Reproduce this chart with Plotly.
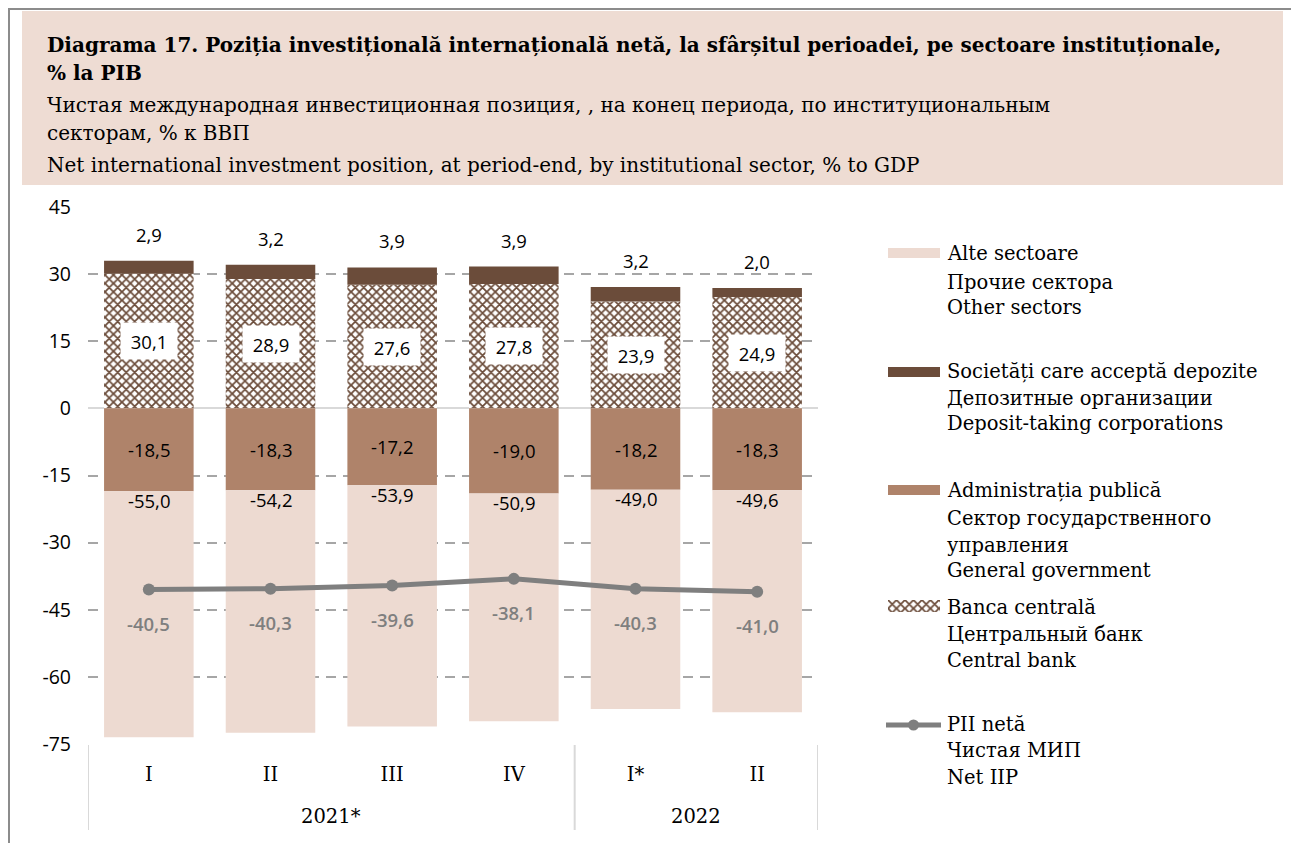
import plotly.graph_objects as go

# ---------------- data ----------------
years = ["2021*", "2021*", "2021*", "2021*", "2022", "2022"]
quarters = ["I", "II", "III", "IV", "I*", "II"]
central_bank = [30.1, 28.9, 27.6, 27.8, 23.9, 24.9]
deposit_taking = [2.9, 3.2, 3.9, 3.9, 3.2, 2.0]
general_gov = [-18.5, -18.3, -17.2, -19.0, -18.2, -18.3]
other_sectors = [-55.0, -54.2, -53.9, -50.9, -49.0, -49.6]
net_iip = [-40.5, -40.3, -39.6, -38.1, -40.3, -41.0]
y_ticks = [45, 30, 15, 0, -15, -30, -45, -60, -75]

title_lines = [
    ("<b>Diagrama 17. Poziția investițională internațională netă, la sfârșitul perioadei, pe sectoare instituționale,</b>", 45),
    ("<b>% la PIB</b>", 73),
    ("Чистая международная инвестиционная позиция, , на конец периода, по институциональным", 105),
    ("секторам, % к ВВП", 133),
    ("Net international investment position, at period-end, by institutional sector, % to GDP", 165),
]
legend_groups = [
    (["Alte sectoare", "Прочие сектора", "Other sectors"], [253, 282, 308]),
    (["Societăți care acceptă depozite", "Депозитные организации", "Deposit-taking corporations"], [372, 398, 424]),
    (["Administrația publică", "Сектор государственного", "управления", "General government"], [490, 518, 545, 570]),
    (["Banca centrală", "Центральный банк", "Central bank"], [607, 634, 660]),
    (["PII netă", "Чистая МИП", "Net IIP"], [724, 750, 777]),
]

# ---------------- styles ----------------
W, H = 1299, 843
OFF = 8  # page offset of the figure inside the browser window
C_OTHER = "#EDDAD1"
C_DEP = "#6B4C3A"
C_GOV = "#AF836A"
C_LINE = "#7F7F7F"
SERIF = "DejaVu Serif"
SANS = "Open Sans"
FS_TITLE = 20
FS_LEG = 19.5
FS_NUM = 18.5
BAR_W = 0.736
PATTERN = dict(shape="x", fgcolor=C_DEP, bgcolor="white", size=6, solidity=0.5, fillmode="replace")


def fx(p):
    return (p - OFF) / W


def fy(p):
    return 1 - (p - OFF) / H


def fmt(v):
    return f"{v:.1f}".replace(".", ",")


idx = list(range(len(quarters)))

fig = go.Figure()
fig.add_trace(go.Bar(x=idx, y=central_bank, width=BAR_W,
                     marker=dict(color="white", line=dict(width=0), pattern=PATTERN)))
fig.add_trace(go.Bar(x=idx, y=deposit_taking, width=BAR_W,
                     marker=dict(color=C_DEP, line=dict(width=0))))
fig.add_trace(go.Bar(x=idx, y=general_gov, width=BAR_W,
                     marker=dict(color=C_GOV, line=dict(width=0))))
fig.add_trace(go.Bar(x=idx, y=other_sectors, width=BAR_W,
                     marker=dict(color=C_OTHER, line=dict(width=0))))
fig.add_trace(go.Scatter(x=idx, y=net_iip, mode="lines+markers",
                         line=dict(color=C_LINE, width=5),
                         marker=dict(color=C_LINE, size=12)))
# legend pattern swatch on a tiny axis
fig.add_trace(go.Bar(x=[1], y=[0], base=[0], orientation="h", width=1, xaxis="x3", yaxis="y3",
                     marker=dict(color="white", line=dict(width=0), pattern=PATTERN)))

ann = []
for i in idx:
    ann.append(dict(x=i, y=central_bank[i] / 2, xref="x", yref="y", text=fmt(central_bank[i]),
                    showarrow=False, bgcolor="white", width=54, height=34,
                    font=dict(family=SANS, size=FS_NUM, color="black")))
    top = central_bank[i] + deposit_taking[i]
    ann.append(dict(x=i, y=top, xref="x", yref="y", text=fmt(deposit_taking[i]),
                    showarrow=False, yanchor="bottom", yshift=12,
                    font=dict(family=SANS, size=FS_NUM, color="black")))
    ann.append(dict(x=i, y=general_gov[i] / 2, xref="x", yref="y", text=fmt(general_gov[i]),
                    showarrow=False, font=dict(family=SANS, size=FS_NUM, color="black")))
    ann.append(dict(x=i, y=general_gov[i], xref="x", yref="y", text=fmt(other_sectors[i]),
                    showarrow=False, yanchor="middle", yshift=-9,
                    font=dict(family=SANS, size=FS_NUM, color="black")))
    ann.append(dict(x=i, y=net_iip[i], xref="x", yref="y", text=fmt(net_iip[i]),
                    showarrow=False, yanchor="middle", yshift=-34,
                    font=dict(family=SANS, size=FS_NUM, color=C_LINE, weight=600)))

# year group labels and dividers
groups = []
for i, yv in enumerate(years):
    if groups and groups[-1][0] == yv:
        groups[-1][2] = i
    else:
        groups.append([yv, i, i])

shapes = []
for yv, s, e in groups:
    ann.append(dict(x=(s + e) / 2, y=fy(816), xref="x", yref="paper", text=yv, showarrow=False,
                    yanchor="middle", font=dict(family=SERIF, size=FS_LEG, color="black")))
    shapes.append(dict(type="line", xref="x", yref="paper", x0=s - 0.5, x1=s - 0.5,
                       y0=fy(745), y1=fy(830), line=dict(color="#D9D9D9", width=2)))
shapes.append(dict(type="line", xref="x", yref="paper", x0=groups[-1][2] + 0.5, x1=groups[-1][2] + 0.5,
                   y0=fy(745), y1=fy(830), line=dict(color="#D9D9D9", width=2)))

for text, yc in title_lines:
    ann.append(dict(x=fx(45), y=fy(yc), xref="paper", yref="paper", text=text, showarrow=False,
                    xanchor="left", yanchor="middle", font=dict(family=SERIF, size=FS_TITLE, color="black")))

for lines, ys in legend_groups:
    for t, yc in zip(lines, ys):
        ann.append(dict(x=fx(945), y=fy(yc), xref="paper", yref="paper", text=t, showarrow=False,
                        xanchor="left", yanchor="middle", font=dict(family=SERIF, size=FS_LEG, color="black")))

shapes += [
    dict(type="rect", xref="paper", yref="paper", x0=fx(9), x1=fx(1294), y0=fy(9), y1=fy(870),
         line=dict(color="#8C8C8C", width=2), fillcolor="rgba(0,0,0,0)", layer="below"),
    dict(type="rect", xref="paper", yref="paper", x0=fx(22), x1=fx(1283), y0=fy(11), y1=fy(185),
         line=dict(width=0), fillcolor="#EEDCD3", layer="below"),
]
sw_x0, sw_x1 = fx(888), fx(940)
for color, yc in [(C_OTHER, legend_groups[0][1][0]), (C_DEP, legend_groups[1][1][0]),
                  (C_GOV, legend_groups[2][1][0])]:
    shapes.append(dict(type="rect", xref="paper", yref="paper", x0=sw_x0, x1=sw_x1,
                       y0=fy(yc - 5), y1=fy(yc + 5), line=dict(width=0), fillcolor=color))
ly = legend_groups[4][1][0] + 1
shapes.append(dict(type="line", xref="paper", yref="paper", x0=fx(886), x1=fx(941),
                   y0=fy(ly), y1=fy(ly), line=dict(color=C_LINE, width=5)))
shapes.append(dict(type="circle", xref="paper", yref="paper", x0=fx(908), x1=fx(919),
                   y0=fy(ly + 5.5), y1=fy(ly - 5.5), line=dict(width=0), fillcolor=C_LINE))

pat_y = legend_groups[3][1][0] - 1

fig.update_layout(
    width=W, height=H, margin=dict(l=0, r=0, t=0, b=0, autoexpand=False),
    paper_bgcolor="white", plot_bgcolor="rgba(0,0,0,0)",
    barmode="relative", showlegend=False,
    xaxis=dict(domain=[fx(88), fx(818)], range=[-0.5, len(quarters) - 0.5], tickvals=idx, ticktext=quarters,
               showgrid=False, zeroline=False, showline=False, ticks="", automargin=False,
               ticklabelstandoff=16, tickfont=dict(family=SERIF, size=FS_LEG, color="black")),
    yaxis=dict(domain=[fy(744), fy(207)], range=[-75, 45], tickvals=y_ticks,
               ticktext=[str(v) for v in y_ticks],
               showgrid=True, gridcolor="#A6A6A6", gridwidth=2, griddash="10px,7px",
               zeroline=True, zerolinecolor="#D9D9D9", zerolinewidth=2, automargin=False,
               showline=False, ticks="", ticklabelstandoff=16,
               tickfont=dict(family=SANS, size=19.5, color="black")),
    xaxis3=dict(domain=[sw_x0, sw_x1], range=[0, 1], visible=False, anchor="y3", automargin=False),
    yaxis3=dict(domain=[fy(pat_y + 6), fy(pat_y - 6)], range=[-0.5, 0.5], visible=False, anchor="x3",
                automargin=False),
    annotations=ann, shapes=shapes,
)

fig.write_html("out.html")
